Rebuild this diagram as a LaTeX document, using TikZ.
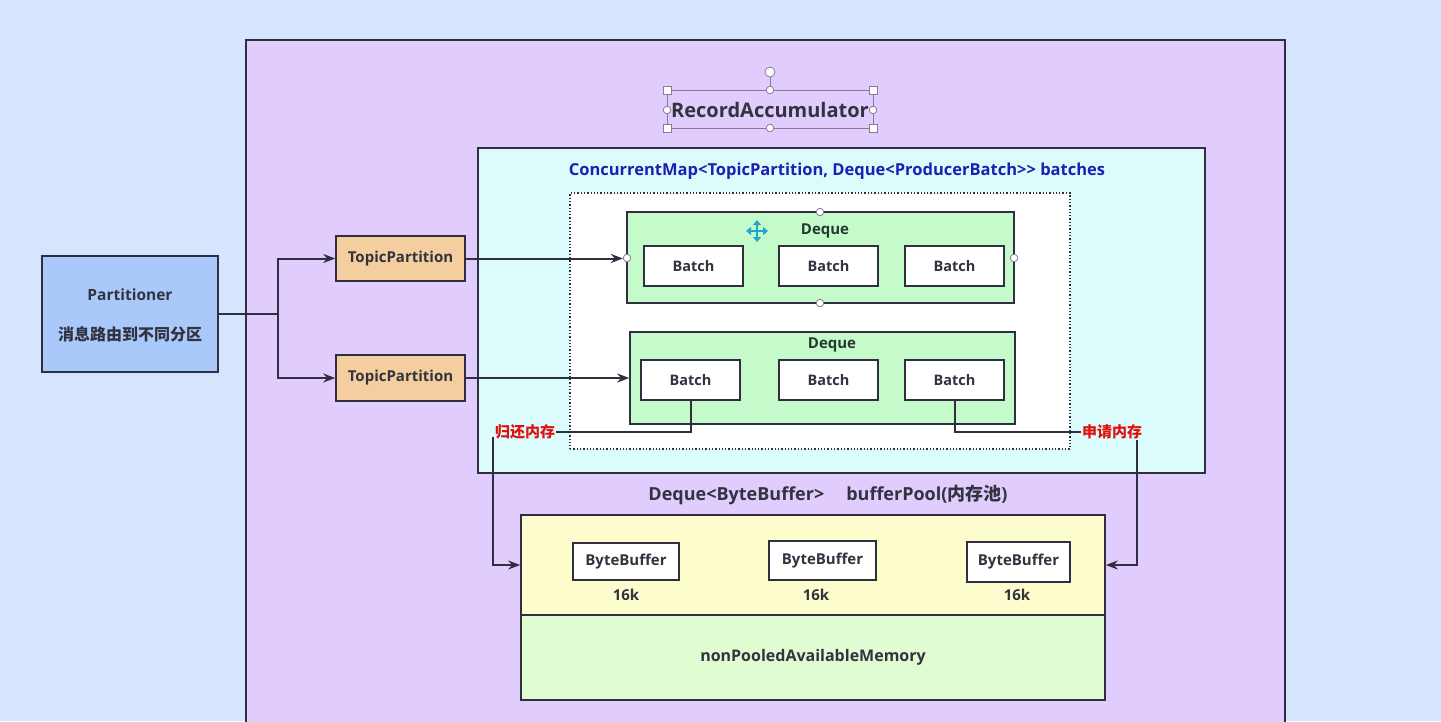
\documentclass[tikz,border=0pt]{standalone}
\usepackage{fontspec}
\setmainfont{Open Sans}
\newfontfamily\cjk{Noto Sans CJK SC}
\usetikzlibrary{arrows.meta,calc}
\definecolor{bgc}{HTML}{D5E5FD}
\definecolor{purp}{HTML}{E0CDFD}
\definecolor{cyanf}{HTML}{DCFCFC}
\definecolor{dqg}{HTML}{C5FBCB}
\definecolor{partc}{HTML}{A9C9FB}
\definecolor{tpc}{HTML}{F4CE9E}
\definecolor{yel}{HTML}{FCFCCD}
\definecolor{grn}{HTML}{DFFCD2}
\definecolor{lc}{HTML}{2F2F3F}
\definecolor{tc}{HTML}{333340}
\definecolor{dqt}{HTML}{243A2C}
\definecolor{bluet}{HTML}{1E1EB4}
\definecolor{redt}{HTML}{E01010}
\definecolor{hdl}{HTML}{8A7A9A}
\definecolor{mvc}{HTML}{1FA8C8}
\tikzset{
  bx/.style={draw=lc, line width=1.6pt, inner sep=0pt, text=tc, font=\bfseries\fontsize{15}{17}\selectfont},
  batchbox/.style={bx, fill=white, minimum width=99pt, minimum height=40pt, font=\bfseries\fontsize{14.5}{17}\selectfont},
  bufbox/.style={bx, fill=white, font=\bfseries\fontsize{15}{17}\selectfont},
  arr/.style={draw=lc, line width=2pt, -{Stealth[length=12pt,width=9pt]}},
  ln/.style={draw=lc, line width=2pt},
  lbl/.style={inner sep=1pt, font=\bfseries\fontsize{15}{17}\selectfont},
  redlbl/.style={inner sep=1pt, text=redt, font=\cjk\bfseries\fontsize{15}{17}\selectfont},
  hsq/.style={draw=hdl, fill=white, line width=0.8pt, minimum size=8pt, inner sep=0pt},
  hci/.style={draw=hdl, fill=white, line width=0.8pt, circle, minimum size=7.5pt, inner sep=0pt},
}
\begin{document}
\begin{tikzpicture}[x=1pt,y=-1pt]
\useasboundingbox (0,0) rectangle (1441,721);
\clip (0,0) rectangle (1441,721);
\fill[bgc] (0,0) rectangle (1441,721);
% outer
\draw[lc, fill=purp, line width=1.6pt] (246,40) rectangle (1285,760);
\draw[lc, line width=2.8pt] (246,40) -- (1285,40);
% title with selection handles
\node[text=tc, font=\bfseries\fontsize{20}{24}\selectfont, inner sep=0pt] (ra) at (770,110) {RecordAccumulator};
\draw[hdl, line width=0.8pt] (667,90) rectangle (873,128);
\draw[hdl, line width=0.8pt] (770,77) -- (770,90);
\node[hci, minimum size=10pt] (rot) at (770,72) {};
\node[hsq] (h1) at (667,90) {};
\node[hsq] (h2) at (873,90) {};
\node[hsq] (h3) at (667,128) {};
\node[hsq] (h4) at (873,128) {};
\node[hci] (h5) at (770,90) {};
\node[hci] (h6) at (770,128) {};
\node[hci] (h7) at (667,110) {};
\node[hci] (h8) at (873,110) {};
% cyan map box
\node[bx, fill=cyanf, minimum width=727pt, minimum height=325pt] (map) at (841.5,310.5) {};
\node[lbl, text=bluet, font=\bfseries\fontsize{16.5}{19}\selectfont] (maptitle) at (837,171) {ConcurrentMap<TopicPartition, Deque<ProducerBatch>{}> batches};
\node[draw=lc, dotted, line width=1.3pt, fill=white, minimum width=500pt, minimum height=256pt, inner sep=0pt] (dot) at (820,321) {};
% deque 1
\node[bx, fill=dqg, minimum width=387pt, minimum height=91pt] (dq1) at (820.5,257.5) {};
\node[lbl, text=dqt] (dq1t) at (825,231) {Deque};
\node[batchbox] (b11) at (693.5,266) {Batch};
\node[batchbox] (b12) at (828.5,266) {Batch};
\node[batchbox] (b13) at (954.5,266) {Batch};
\node[hci] (d1) at (627,258) {};
\node[hci] (d2) at (1014,258) {};
\node[hci] (d3) at (820,212) {};
\node[hci] (d4) at (820,303) {};
% move icon
\draw[mvc, line width=2.2pt, {Triangle[length=5pt,width=8pt]}-{Triangle[length=5pt,width=8pt]}] (746,231) -- (768,231);
\draw[mvc, line width=2.2pt, {Triangle[length=5pt,width=8pt]}-{Triangle[length=5pt,width=8pt]}] (757,220) -- (757,242);
% deque 2
\node[bx, fill=dqg, minimum width=385pt, minimum height=92pt] (dq2) at (822.5,378) {};
\node[lbl, text=dqt] (dq2t) at (832,345) {Deque};
\node[batchbox] (b21) at (690.5,380) {Batch};
\node[batchbox] (b22) at (828.5,380) {Batch};
\node[batchbox] (b23) at (954.5,380) {Batch};
% partitioner
\node[bx, fill=partc, minimum width=176pt, minimum height=116pt] (part) at (130,314) {};
\node[lbl, text=tc, font=\bfseries\fontsize{15.5}{18}\selectfont] (partt) at (130,295) {Partitioner};
\node[lbl, text=tc, font=\cjk\bfseries\fontsize{16}{18}\selectfont] (parts) at (130,334) {消息路由到不同分区};
% topic partitions
\node[bx, fill=tpc, minimum width=129pt, minimum height=45pt] (tp1) at (400.5,258.5) {TopicPartition};
\node[bx, fill=tpc, minimum width=129pt, minimum height=46pt] (tp2) at (400.5,378) {TopicPartition};
\coordinate (j) at (278,314);
\draw[ln] (part.east) -- (j);
\draw[arr] (j) |- (tp1.west);
\draw[arr] (j) |- (tp2.west);
\draw[arr] (tp1.east) -- (tp1.east -| d1.west);
\draw[arr] (tp2.east) -- (dq2.west);
% buffer pool
\node[lbl, text=tc, font=\bfseries\fontsize{18}{21}\selectfont] (bpt) at (828,495) {Deque<ByteBuffer>\hspace{22pt}bufferPool({\cjk 内存池})};
\node[bx, fill=yel, minimum width=584pt, minimum height=100pt] (pool) at (813,565) {};
\node[bx, fill=grn, minimum width=584pt, minimum height=85pt, font=\bfseries\fontsize{16}{18}\selectfont] (npm) at (813,657.5) {nonPooledAvailableMemory};
\node[bufbox, minimum width=106pt, minimum height=37pt] (bb1) at (626,561.5) {ByteBuffer};
\node[bufbox, minimum width=107pt, minimum height=39pt] (bb2) at (822.5,560.5) {ByteBuffer};
\node[bufbox, minimum width=103pt, minimum height=40pt] (bb3) at (1018.5,562) {ByteBuffer};
\node[lbl, text=tc] (k1) at (626,595) {16k};
\node[lbl, text=tc] (k2) at (816,595) {16k};
\node[lbl, text=tc] (k3) at (1017,595) {16k};
% memory return / request
\node[redlbl] (gui) at (525,432) {归还内存};
\node[redlbl] (shen) at (1112,432) {申请内存};
\draw[ln] (b21.south) |- (gui.east);
\draw[ln] (b23.south) |- (shen.west);
\coordinate (gd) at ($(gui.south west)+(-1,-3)$);
\coordinate (sd) at ($(shen.south east)+(-6,0)$);
\draw[arr] (gd) |- (pool.west);
\draw[arr] (sd) |- (pool.east);
\end{tikzpicture}
\end{document}
